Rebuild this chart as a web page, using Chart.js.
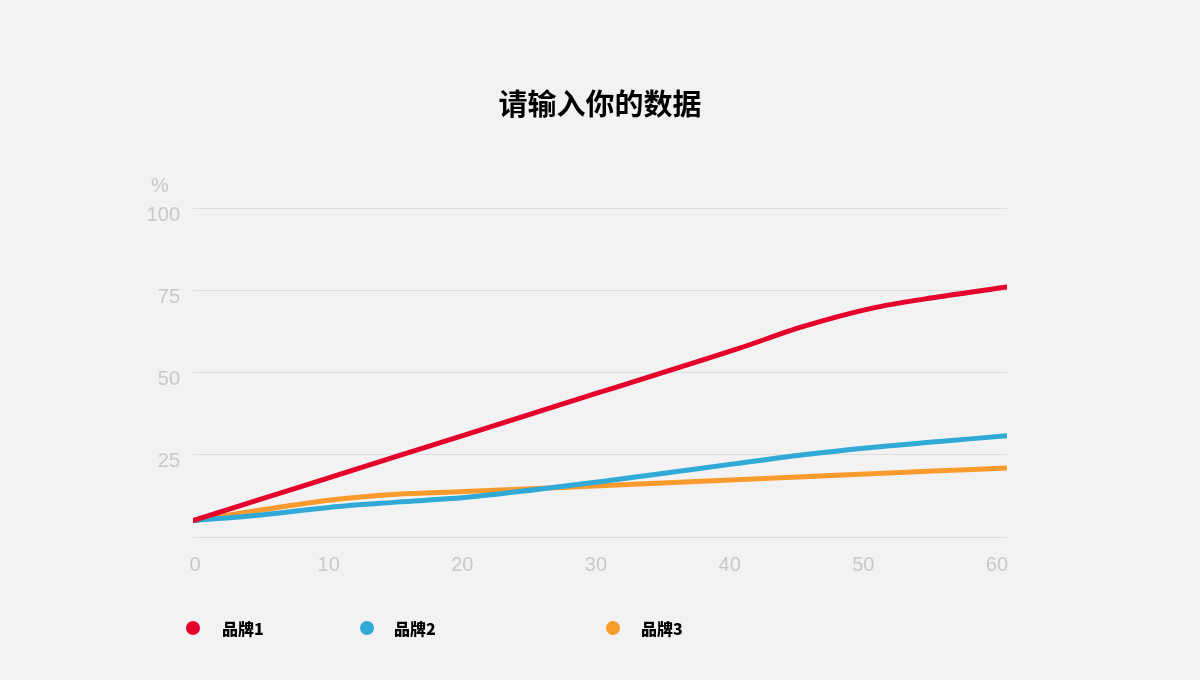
<!DOCTYPE html>
<html>
<head>
<meta charset="utf-8">
<script src="https://cdn.jsdelivr.net/npm/chart.js@4"></script>
<style>
  body { margin: 0; background: #f2f2f2; }
  #wrap { position: relative; width: 1200px; height: 680px; background: #f2f2f2; }
  #title { position: absolute; left: 0; width: 1200px; top: 82px; text-align: center;
           font: bold 29px "Noto Sans CJK SC", sans-serif; color: #000; line-height: 40px; }
  #unit { position: absolute; left: 151px; top: 174px; font: 20px "Liberation Sans", Arial, sans-serif; color: #c8c8c8; }
  .leg { position: absolute; top: 616px; height: 24px; line-height: 24px;
         font: bold 16px "Noto Sans CJK SC", sans-serif; color: #000; }
  .leg span { position: absolute; top: 5px; width: 14px; height: 14px; border-radius: 50%; }
  .leg b { position: absolute; white-space: nowrap; }
</style>
</head>
<body>
<div id="wrap">
  <canvas id="lineChart" width="1200" height="680"></canvas>
  <div id="title">请输入你的数据</div>
  <div id="unit">%</div>
  <div id="legend"></div>
</div>
<script>
// data
const xValues = [0, 5, 10, 15, 20, 30, 40, 45, 50, 55, 60];
const brand1 = [5, 11.5, 18, 24.5, 31, 44, 57, 64, 69.5, 73, 76];
const brand2 = [5, 6.7, 9, 10.6, 12, 16.8, 22.3, 25, 27.2, 29, 30.8];
const brand3 = [5, 8.2, 11.2, 13, 13.8, 15.6, 17.4, 18.3, 19.2, 20.1, 21];
const seriesNames = ['品牌1', '品牌2', '品牌3'];
const colors = ['#e4002b', '#31a9d6', '#f99b2c'];
const yTicks = [0, 25, 50, 75, 100];
const xTicks = [0, 10, 20, 30, 40, 50, 60];

function toPoints(vals) {
    return xValues.map((x, i) => ({ x: x, y: vals[i] }));
}

const allSeries = [brand1, brand2, brand3];
const datasets = allSeries.map((vals, i) => ({
    label: seriesNames[i],
    data: toPoints(vals),
    borderColor: colors[i],
    backgroundColor: colors[i],
    borderWidth: 5,
    pointRadius: 0,
    cubicInterpolationMode: 'monotone',
    borderCapStyle: 'round',
    xAxisID: 'x',
    yAxisID: 'y'
}));

const ctx = document.getElementById('lineChart').getContext('2d');
const myChart = new Chart(ctx, {
    type: 'line',
    data: { datasets: datasets },
    options: {
        responsive: false,
        animation: false,
        layout: { padding: { top: 208, right: 193, left: 0, bottom: 0 } },
        plugins: { legend: { display: false }, tooltip: { enabled: false } },
        scales: {
            x: { type: 'linear', min: 0, max: 60, display: false },
            xLabels: {
                type: 'linear',
                position: 'bottom',
                min: -0.15, max: 60.75,
                afterBuildTicks: axis => { axis.ticks = xTicks.map(v => ({ value: v })); },
                afterFit: axis => { axis.height = 143; },
                grid: { display: false, drawTicks: false },
                border: { display: false },
                ticks: { padding: 16, color: '#c8c8c8', font: { size: 20, family: 'Liberation Sans' } }
            },
            y: {
                min: 0, max: 100,
                afterBuildTicks: axis => { axis.ticks = yTicks.map(v => ({ value: v })); },
                afterFit: axis => { axis.width = 193; },
                grid: { color: '#dedede', lineWidth: 1, drawTicks: false },
                border: { display: false },
                ticks: {
                    padding: 13, labelOffset: 7, color: '#c8c8c8', font: { size: 20, family: 'Liberation Sans' },
                    callback: v => v === 0 ? '' : v
                }
            }
        }
    }
});

// legend with uneven spacing like the picture
const legendPos = [{ dot: 186, text: 222 }, { dot: 360, text: 394 }, { dot: 606, text: 641 }];
const legendEl = document.getElementById('legend');
seriesNames.forEach((name, i) => {
    const item = document.createElement('div');
    item.className = 'leg';
    item.style.left = '0px';
    item.innerHTML = '<span style="left:' + legendPos[i].dot + 'px;background:' + colors[i] + '"></span>' +
        '<b style="left:' + legendPos[i].text + 'px">' + name + '</b>';
    legendEl.appendChild(item);
});
</script>
</body>
</html>
